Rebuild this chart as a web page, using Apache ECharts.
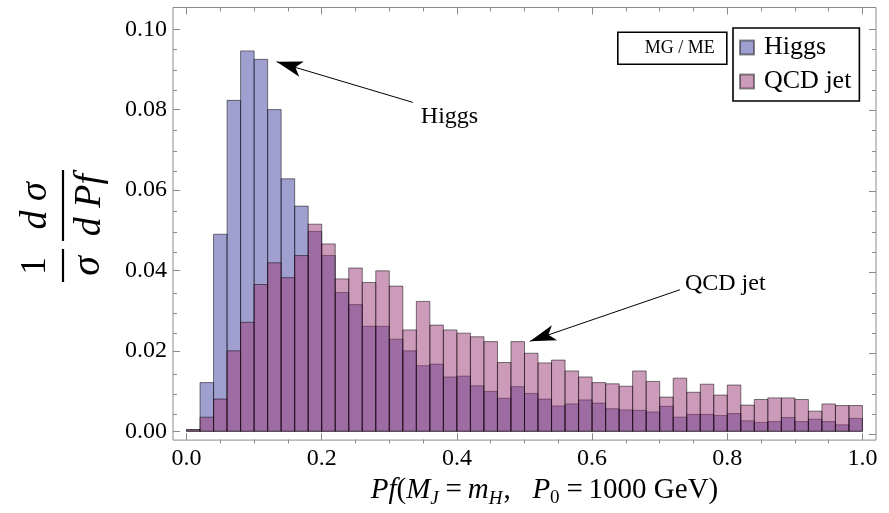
<!DOCTYPE html>
<html><head><meta charset="utf-8">
<script src="https://cdn.jsdelivr.net/npm/echarts@6/dist/echarts.min.js"></script>
<style>html,body{margin:0;padding:0;background:#fff}#c{width:889px;height:513px}</style>
</head><body><div id="c"></div>
<script>
// ---- data ----
const binEdges = [0.00,0.02,0.04,0.06,0.08,0.10,0.12,0.14,0.16,0.18,0.20,0.22,0.24,0.26,0.28,0.30,0.32,0.34,0.36,0.38,0.40,0.42,0.44,0.46,0.48,0.50,0.52,0.54,0.56,0.58,0.60,0.62,0.64,0.66,0.68,0.70,0.72,0.74,0.76,0.78,0.80,0.82,0.84,0.86,0.88,0.90,0.92,0.94,0.96,0.98,1.00];
const higgs = [0.0004,0.0121,0.0490,0.0823,0.0946,0.0925,0.0800,0.0628,0.0560,0.0497,0.0437,0.0345,0.0315,0.0261,0.0261,0.0229,0.0200,0.0163,0.0167,0.0135,0.0137,0.0113,0.0099,0.0082,0.0111,0.0094,0.0080,0.0063,0.0068,0.0078,0.0070,0.0056,0.0053,0.0052,0.0048,0.0062,0.0035,0.0042,0.0042,0.0039,0.0044,0.0026,0.0022,0.0024,0.0034,0.0024,0.0030,0.0024,0.0016,0.0032];
const qcd = [0.0004,0.0035,0.0080,0.0200,0.0271,0.0365,0.0419,0.0382,0.0437,0.0515,0.0466,0.0379,0.0406,0.0370,0.0399,0.0361,0.0252,0.0323,0.0264,0.0252,0.0244,0.0235,0.0223,0.0171,0.0223,0.0194,0.0170,0.0177,0.0150,0.0135,0.0121,0.0118,0.0112,0.0150,0.0124,0.0085,0.0132,0.0097,0.0117,0.0090,0.0115,0.0065,0.0079,0.0083,0.0083,0.0079,0.0050,0.0068,0.0064,0.0064];
const seriesNames = ['Higgs','QCD jet'];
const xMajorTicks = [0,0.2,0.4,0.6,0.8,1.0];
const xMinorTicks = [0.05,0.1,0.15,0.25,0.3,0.35,0.45,0.5,0.55,0.65,0.7,0.75,0.85,0.9,0.95];
const yMajorTicks = [0,0.02,0.04,0.06,0.08,0.10];
const yMinorTicks = [0.005,0.01,0.015,0.025,0.03,0.035,0.045,0.05,0.055,0.065,0.07,0.075,0.085,0.09,0.095];
const annotations = [
  {text:'Higgs', from:[0.3348,0.0818], to:[0.1333,0.0919], label:[0.389,0.0783]},
  {text:'QCD jet', from:[0.730,0.0352], to:[0.508,0.0224], label:[0.797,0.0366]}
];

const FONT = "'Liberation Serif','Times New Roman',serif";
const TICK = '#8a8a8a';
const colors = ['rgba(65,65,161,0.5)','rgba(153,55,115,0.5)'];
const GRID = {left:173, right:13, top:7.5, bottom:69.5};

function histData(vals){ return vals.map((v,i)=>[binEdges[i], binEdges[i+1], v]); }
function makeRender(fill){
  return function(params, api){
    const p0 = api.coord([api.value(0), api.value(2)]);
    const p1 = api.coord([api.value(1), 0]);
    return {type:'rect', shape:{x:p0[0], y:p0[1], width:p1[0]-p0[0], height:p1[1]-p0[1]},
      style:{fill:fill, stroke:'rgba(0,0,0,0.5)', lineWidth:1}};
  };
}
function xAxisCfg(g, pos, ticks, len, labels){
  return {type:'value', gridIndex:g, min:-0.02, max:1.02, position:pos, offset:0,
    axisLine:{show:false, onZero:false}, splitLine:{show:false},
    axisTick:{show:true, inside:true, length:len, customValues:ticks, lineStyle:{color:TICK, width:1}},
    axisLabel: labels ? {show:true, customValues:ticks, formatter:v=>v.toFixed(1), fontSize:24, fontFamily:FONT, color:'#000', margin:7} : {show:false}};
}
function yAxisCfg(g, pos, ticks, len, labels){
  return {type:'value', gridIndex:g, min:-0.0022, max:0.1054, position:pos, offset:0,
    axisLine:{show:false, onZero:false}, splitLine:{show:false},
    axisTick:{show:true, inside:true, length:len, customValues:ticks, lineStyle:{color:TICK, width:1}},
    axisLabel: labels ? {show:true, customValues:ticks, formatter:v=>v.toFixed(2), fontSize:24, fontFamily:FONT, color:'#000', margin:6} : {show:false}};
}

const xMain = xAxisCfg(0, 'bottom', xMajorTicks, 7, true);
xMain.name = '{i|Pf}{r|(}{i|M}{si|J}{r|\u2009=\u2009}{i|m}{si|H}{r|,   }{i|P}{s|0}{r|\u2009=\u20091000 GeV)}';
xMain.nameLocation = 'middle';
xMain.nameGap = 32;
xMain.nameTextStyle = {padding:[0,0,0,40], rich:{
  i:{fontFamily:FONT, fontStyle:'italic', fontSize:29, color:'#000'},
  r:{fontFamily:FONT, fontSize:29, color:'#000'},
  si:{fontFamily:FONT, fontStyle:'italic', fontSize:19, color:'#000', padding:[16,1,0,0]},
  s:{fontFamily:FONT, fontSize:19, color:'#000', padding:[16,1,0,0]}
}};

const chart = echarts.init(document.getElementById('c'), null, {renderer:'canvas'});
const option = {
  animation:false,
  backgroundColor:'#fff',
  grid:[
    Object.assign({show:true, borderColor:'#8a8a8a', borderWidth:1, backgroundColor:'transparent'}, GRID),
    Object.assign({show:false}, GRID),
    Object.assign({show:false}, GRID),
    Object.assign({show:false}, GRID)
  ],
  xAxis:[xMain, xAxisCfg(1,'bottom', xMinorTicks, 4, false), xAxisCfg(2,'top', xMajorTicks, 7, false), xAxisCfg(3,'top', xMinorTicks, 4, false)],
  yAxis:[yAxisCfg(0,'left', yMajorTicks, 7, true), yAxisCfg(1,'left', yMinorTicks, 4, false), yAxisCfg(2,'right', yMajorTicks, 7, false), yAxisCfg(3,'right', yMinorTicks, 4, false)],
  legend:{data:seriesNames, orient:'vertical', left:733, top:28, icon:'rect', itemWidth:14, itemHeight:14, itemGap:3,
    padding:[4,8,4,6], borderColor:'#000', borderWidth:1.6, backgroundColor:'#fff',
    textStyle:{fontFamily:FONT, fontSize:26, color:'#000', lineHeight:31, padding:[0,0,0,5]}},
  series:[
    {type:'custom', name:seriesNames[0], xAxisIndex:0, yAxisIndex:0, data:histData(higgs), renderItem:makeRender(colors[0]),
      encode:{x:[0,1], y:2}, clip:true, z:2,
      itemStyle:{color:colors[0], borderColor:'rgba(0,0,0,0.45)', borderWidth:1},
      markLine:{silent:true, symbol:['none','arrow'], symbolSize:[12,26], lineStyle:{color:'#000', width:1, type:'solid'}, label:{show:false},
        data: annotations.map(a=>[{coord:a.from},{coord:a.to}])},
      markPoint:{silent:true, symbol:'rect', symbolSize:0,
        label:{show:true, position:'inside', fontFamily:FONT, fontSize:24, color:'#000', formatter:p=>p.name},
        data: annotations.map(a=>({name:a.text, coord:a.label}))}
    },
    {type:'custom', name:seriesNames[1], xAxisIndex:0, yAxisIndex:0, data:histData(qcd), renderItem:makeRender(colors[1]),
      encode:{x:[0,1], y:2}, clip:true, z:3,
      itemStyle:{color:colors[1], borderColor:'rgba(0,0,0,0.45)', borderWidth:1}}
  ],
  graphic:[
    {type:'group', left:617, top:31.5, children:[
      {type:'rect', shape:{x:0, y:0, width:109, height:32}, style:{fill:'#fff', stroke:'#000', lineWidth:1.6}},
      {type:'text', x:62, y:16, style:{text:'MG / ME', font:"18px 'Liberation Serif'", fill:'#000', align:'center', verticalAlign:'middle'}}
    ]},
    {type:'group', x:63, y:282, rotation:Math.PI/2, children:[
      {type:'text', x:16, y:-27, style:{text:'1', font:"35px 'Liberation Serif'", fill:'#000', align:'center', verticalAlign:'middle'}},
      {type:'line', shape:{x1:0, y1:0, x2:33, y2:0}, style:{stroke:'#000', lineWidth:2.2}},
      {type:'text', x:16, y:25, style:{text:'σ', font:"italic 40px 'Liberation Serif'", fill:'#000', align:'center', verticalAlign:'middle'}},
      {type:'text', x:76, y:-27, style:{text:'d σ', font:"italic 38px 'Liberation Serif'", fill:'#000', align:'center', verticalAlign:'middle'}},
      {type:'line', shape:{x1:41, y1:0, x2:112, y2:0}, style:{stroke:'#000', lineWidth:2.2}},
      {type:'text', x:77, y:27, style:{text:'d Pf', font:"italic 38px 'Liberation Serif'", fill:'#000', align:'center', verticalAlign:'middle'}}
    ]}
  ]
};
chart.setOption(option);
</script></body></html>
